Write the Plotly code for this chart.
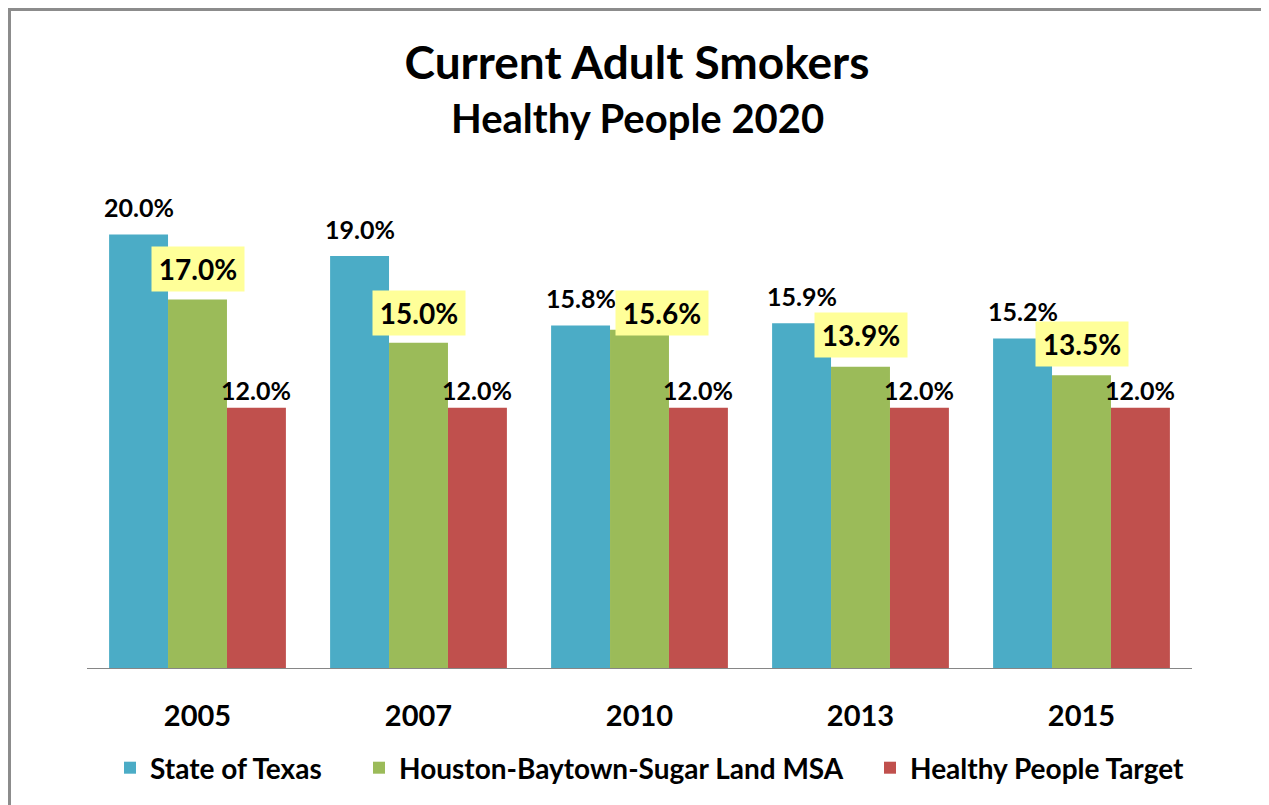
import plotly.graph_objects as go

# ---- data ----
years = ["2005", "2007", "2010", "2013", "2015"]
texas = [20.0, 19.0, 15.8, 15.9, 15.2]
houston = [17.0, 15.0, 15.6, 13.9, 13.5]
target = [12.0, 12.0, 12.0, 12.0, 12.0]
series_names = ["State of Texas", "Houston-Baytown-Sugar Land MSA", "Healthy People Target"]
title_text = "Current Adult Smokers"
subtitle_text = "Healthy People 2020"

# ---- style / layout ----
OFF = 8  # browser body margin
W, H = 1269 - OFF, 805 - OFF
ML = 87 - OFF
MR = 1269 - 1192
MT = 126 - OFF
MB = 805 - 668
FONT = "Lato"
colors = ["#4BACC6", "#9BBB59", "#C0504D"]
BARGAP = 0.2

# label nudges (pixels) for the highlighted Houston labels
houston_xshift = [0, 0, 22, 0, 0]
houston_yshift = [30, 30, 17, 32, 31]

plot_w = W - ML - MR
plot_h = H - MT - MB
cat_w = plot_w / len(years)
bar_w = cat_w * (1 - BARGAP) / 3

def px_x(p):  # page pixel -> paper fraction
    return (p - OFF - ML) / plot_w
def px_y(p):
    return (H - MB - (p - OFF)) / plot_h
def cx(p):  # page pixel -> container fraction
    return (p - OFF) / W
def cy(p):
    return 1 - (p - OFF) / H

legend_names = ["legend2", "legend3", "legend4"]
legend_text_x = [150, 399, 910]

fig = go.Figure()
for name, vals, col, lg in zip(series_names, [texas, houston, target], colors, legend_names):
    fig.add_trace(go.Bar(x=years, y=vals, name=name, legend=lg, showlegend=True,
                         marker=dict(color=col, line=dict(width=0))))

annotations = []
for i in range(len(years)):
    annotations.append(dict(x=i, y=texas[i], xref="x", yref="y", text=f"{texas[i]:.1f}%",
                            showarrow=False, xshift=-bar_w, yshift=27, yanchor="middle",
                            font=dict(family=FONT, size=25, color="black", weight="bold")))
    annotations.append(dict(x=i, y=target[i], xref="x", yref="y", text=f"{target[i]:.1f}%",
                            showarrow=False, xshift=bar_w, yshift=18, yanchor="middle",
                            font=dict(family=FONT, size=25, color="black", weight="bold")))
    annotations.append(dict(x=i, y=houston[i], xref="x", yref="y", text=f"{houston[i]:.1f}%",
                            showarrow=False, xshift=houston_xshift[i], yshift=houston_yshift[i],
                            yanchor="middle", bgcolor="#FFFF99", width=92, height=44, borderpad=0,
                            font=dict(family=FONT, size=28, color="black", weight="bold")))

annotations.append(dict(x=px_x(637), y=px_y(118), xref="paper", yref="paper", text=subtitle_text,
                        showarrow=False, xanchor="center", yanchor="middle",
                        font=dict(family=FONT, size=40, color="black", weight="bold")))

legend_font = dict(family=FONT, size=28, color="black", weight="bold")
legends = {}
for lg, tx in zip(legend_names, legend_text_x):
    legends[lg] = dict(orientation="h", xref="container", x=cx(tx - 40), xanchor="left",
                       yref="container", y=cy(768), yanchor="middle", visible=True,
                       font=legend_font, itemclick=False, bgcolor="rgba(0,0,0,0)")

fig.update_layout(
    width=W, height=H,
    showlegend=True,
    margin=dict(l=ML, r=MR, t=MT, b=MB, autoexpand=False),
    paper_bgcolor="white", plot_bgcolor="white",
    barmode="group", bargap=BARGAP, bargroupgap=0,
    title=dict(
        text=title_text,
        x=cx(637), xanchor="center", xref="container",
        y=cy(63), yanchor="middle", yref="container",
        font=dict(family=FONT, size=46, color="black", weight="bold"),
    ),
    xaxis=dict(type="category", range=[-0.5, len(years) - 0.5], showline=True,
               linecolor="#868686", linewidth=1, ticks="",
               tickfont=dict(family=FONT, size=29, color="black", weight="bold"),
               ticklabelstandoff=22, showgrid=False, automargin=False),
    yaxis=dict(range=[0, 25], visible=False, showgrid=False, zeroline=False, automargin=False),
    annotations=annotations,
    shapes=[dict(type="rect", xref="paper", yref="paper",
                 x0=px_x(9.5), x1=px_x(1265), y0=px_y(815), y1=px_y(9.5),
                 line=dict(color="#8C8C8C", width=3), fillcolor="rgba(0,0,0,0)", layer="below")],
    **legends,
)

fig.write_html("out.html")
